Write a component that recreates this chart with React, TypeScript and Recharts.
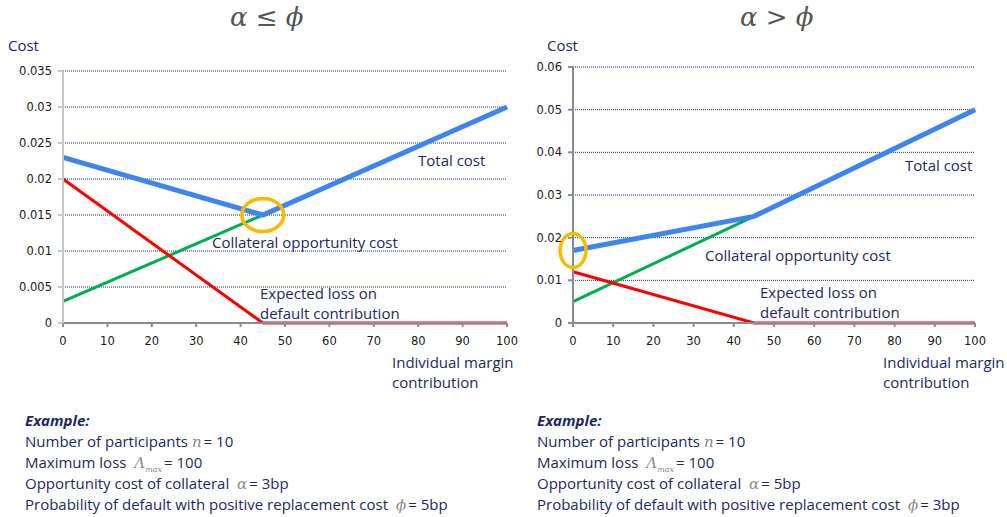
import React from 'react';
import { LineChart, Line, XAxis, YAxis, CartesianGrid, ReferenceDot } from 'recharts';

const xPoints = [0, 45, 100];
const xTicks = [0, 10, 20, 30, 40, 50, 60, 70, 80, 90, 100];

// left panel: alpha <= phi
const leftTotal = [0.023, 0.015, 0.030];
const leftLoss = [0.020, 0, 0];
const leftCollateral = [0.003, 0.015, 0.030];
const leftYTicks = [0, 0.005, 0.01, 0.015, 0.02, 0.025, 0.03, 0.035];

// right panel: alpha > phi
const rightTotal = [0.017, 0.025, 0.050];
const rightLoss = [0.012, 0, 0];
const rightCollateral = [0.005, 0.025, 0.050];
const rightYTicks = [0, 0.01, 0.02, 0.03, 0.04, 0.05, 0.06];

const leftExample = ['10', '100', '3bp', '5bp'];
const rightExample = ['10', '100', '5bp', '3bp'];

const NAVY = '#1c2966';
const TEXT_FONT = '"Open Sans", sans-serif';
const MATH_FONT = '"DejaVu Serif", "Liberation Serif", serif';

const buildRows = (total: number[], loss: number[], coll: number[]) =>
  xPoints.map((x, i) => ({ x, total: total[i], loss: loss[i], coll: coll[i] }));

const Note: React.FC<{ x: number; y: number; children: React.ReactNode; size?: number }> = ({ x, y, children, size = 15 }) => (
  <div
    style={{
      position: 'absolute',
      left: x,
      top: y - 10,
      lineHeight: '20px',
      fontSize: size,
      color: NAVY,
      fontFamily: TEXT_FONT,
      whiteSpace: 'nowrap',
    }}
  >
    {children}
  </div>
);

const Sym: React.FC<{ children: React.ReactNode }> = ({ children }) => (
  <span style={{ fontFamily: MATH_FONT, fontStyle: 'italic', color: '#8a8a8a', fontSize: 15, margin: '0 2px 0 4px' }}>{children}</span>
);

const ellipse = (rx: number, ry: number) => (props: any) => (
  <ellipse cx={props.cx} cy={props.cy} rx={rx} ry={ry} fill="none" stroke="#fbb900" strokeWidth={3.5} />
);

interface PanelProps {
  left: number;
  width: number;
  marginTop: number;
  marginRight: number;
  rows: any[];
  yTicks: number[];
  yMax: number;
  yAxisColor: string;
  circle: { x: number; y: number; rx: number; ry: number };
}

const Panel: React.FC<PanelProps> = ({ left, width, marginTop, marginRight, rows, yTicks, yMax, yAxisColor, circle }) => (
  <div style={{ position: 'absolute', left, top: 0 }}>
    <LineChart width={width} height={400} data={rows} margin={{ top: marginTop, right: marginRight, left: 8, bottom: 47 }}>
      <CartesianGrid horizontal vertical={false} stroke="#1f2d5a" strokeDasharray="1 1" />
      <XAxis
        dataKey="x"
        type="number"
        domain={[0, 100]}
        ticks={xTicks}
        interval={0}
        height={30}
        stroke="#8a8a9a"
        strokeWidth={2}
        tickSize={4}
        tickMargin={10}
        tick={{ fill: '#1a1a1a', fontSize: 11.5, fontFamily: '"DejaVu Sans", sans-serif' }}
      />
      <YAxis
        type="number"
        domain={[0, yMax]}
        ticks={yTicks}
        interval={0}
        width={55}
        stroke={yAxisColor}
        strokeWidth={2}
        tickSize={5}
        tickMargin={6}
        tick={{ fill: '#1a1a1a', fontSize: 11.5, fontFamily: '"DejaVu Sans", sans-serif' }}
      />
      <Line dataKey="coll" type="linear" stroke="#00b050" strokeWidth={3} dot={false} isAnimationActive={false} />
      <Line dataKey="loss" type="linear" stroke="#ff0000" strokeWidth={3} dot={false} isAnimationActive={false} />
      <Line dataKey="total" type="linear" stroke="#3d85f2" strokeWidth={5} dot={false} isAnimationActive={false} />
      <ReferenceDot x={circle.x} y={circle.y} r={circle.rx} shape={ellipse(circle.rx, circle.ry)} ifOverflow="visible" />
    </LineChart>
  </div>
);

const Example: React.FC<{ x: number; vals: string[] }> = ({ x, vals }) => (
  <>
    <Note x={x} y={420}>
      <b><i>Example:</i></b>
    </Note>
    <Note x={x} y={441}>
      Number of participants<Sym>n</Sym>= {vals[0]}
    </Note>
    <Note x={x} y={462}>
      Maximum loss <Sym>Λ<sub style={{ fontSize: 8 }}>max</sub></Sym>= {vals[1]}
    </Note>
    <Note x={x} y={483}>
      Opportunity cost of collateral <Sym>α</Sym>= {vals[2]}
    </Note>
    <Note x={x} y={504}>
      Probability of default with positive replacement cost <Sym>ϕ</Sym>= {vals[3]}
    </Note>
  </>
);

const Title: React.FC<{ x: number; text: string }> = ({ x, text }) => (
  <div
    style={{
      position: 'absolute',
      left: x,
      top: 0,
      fontFamily: MATH_FONT,
      fontStyle: 'italic',
      fontSize: 26,
      lineHeight: '34px',
      color: '#555',
      whiteSpace: 'pre',
    }}
  >
    {text}
  </div>
);

export default function App() {
  return (
    <div style={{ position: 'absolute', left: 0, top: 0, width: 1007, height: 517, background: '#fff', overflow: 'hidden' }}>
      <Title x={230} text="α ≤ ϕ" />
      <Title x={740} text="α > ϕ" />

      <Panel
        left={0}
        width={520}
        marginTop={71}
        marginRight={13}
        rows={buildRows(leftTotal, leftLoss, leftCollateral)}
        yTicks={leftYTicks}
        yMax={0.035}
        yAxisColor="#c8c8cc"
        circle={{ x: 45, y: 0.015, rx: 21, ry: 16.5 }}
      />
      <Panel
        left={510}
        width={497}
        marginTop={67}
        marginRight={32}
        rows={buildRows(rightTotal, rightLoss, rightCollateral)}
        yTicks={rightYTicks}
        yMax={0.06}
        yAxisColor="#8a8a9a"
        circle={{ x: 0, y: 0.017, rx: 13, ry: 17 }}
      />

      <Note x={8} y={45}>Cost</Note>
      <Note x={418} y={160}>Total cost</Note>
      <Note x={212} y={242}>Collateral opportunity cost</Note>
      <Note x={260} y={293}>Expected loss on</Note>
      <Note x={260} y={313}>default contribution</Note>
      <Note x={392} y={362}>Individual margin</Note>
      <Note x={392} y={382}>contribution</Note>

      <Note x={547} y={45}>Cost</Note>
      <Note x={905} y={165}>Total cost</Note>
      <Note x={705} y={255}>Collateral opportunity cost</Note>
      <Note x={760} y={292}>Expected loss on</Note>
      <Note x={760} y={312}>default contribution</Note>
      <Note x={883} y={362}>Individual margin</Note>
      <Note x={883} y={382}>contribution</Note>

      <Example x={25} vals={leftExample} />
      <Example x={537} vals={rightExample} />
    </div>
  );
}
